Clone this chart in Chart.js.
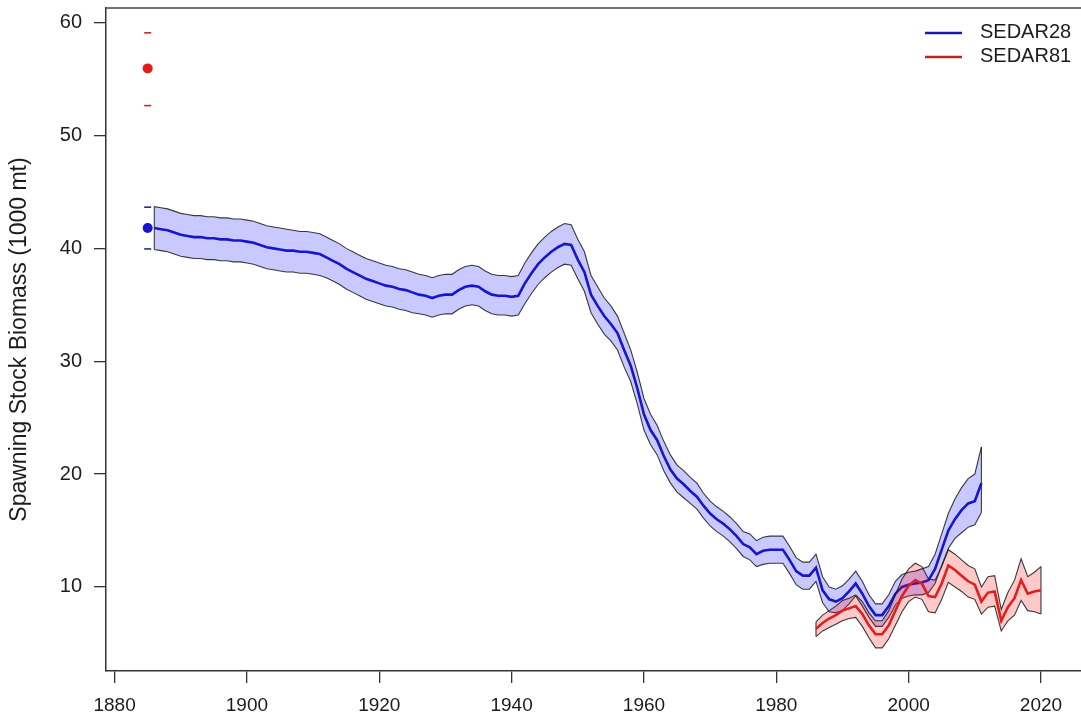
<!DOCTYPE html>
<html><head><meta charset="utf-8">
<style>html,body{margin:0;padding:0;background:#fff;}#wrap{width:1081px;height:725px;}</style>
<script src="https://cdn.jsdelivr.net/npm/chart.js@4/dist/chart.umd.min.js"></script>
</head><body><div id="wrap"><canvas id="c" width="1081" height="725"></canvas></div>
<script>
// ---------------- DATA ----------------
const seriesNames = ["SEDAR28", "SEDAR81"];
const xTicks = [1880, 1900, 1920, 1940, 1960, 1980, 2000, 2020];
const yTicks = [10, 20, 30, 40, 50, 60];
const yTitle = "Spawning Stock Biomass (1000 mt)";

// single estimate at the first year (point with interval ticks)
const pointYear = 1885;
const s28Point = 41.8, s28PointLo = 39.95, s28PointHi = 43.65;
const s81Point = 55.95, s81PointLo = 52.65, s81PointHi = 59.1;

// SEDAR28 : 1886-2011
const s28Start = 1886;
const s28 = [
 41.8,41.7,41.6,41.4,41.2,41.1,41.0,41.0,40.9,40.9,40.8,40.8,40.7,40.7,
 40.6,40.5,40.3,40.1,40.0,39.9,39.8,39.8,39.7,39.7,
 39.6,39.5,39.2,38.9,38.6,38.2,37.9,37.6,37.3,37.1,
 36.9,36.7,36.6,36.4,36.3,36.1,35.9,35.8,35.6,35.8,
 35.9,35.9,36.3,36.6,36.7,36.6,36.2,35.9,35.8,35.8,
 35.7,35.8,36.9,37.8,38.6,39.2,39.7,40.1,40.4,40.3,
 39.0,37.9,35.9,34.9,34.0,33.3,32.5,31.0,29.6,27.6,
 25.3,23.9,23.0,21.6,20.4,19.6,19.1,18.5,18.0,17.2,
 16.5,16.0,15.6,15.1,14.5,13.8,13.5,12.9,13.2,13.3,
 13.3,13.3,12.4,11.4,11.0,11.0,11.7,9.7,8.9,8.7,
 9.0,9.6,10.3,9.4,8.3,7.5,7.5,8.3,9.4,10.0,
 10.2,10.3,10.4,10.6,11.6,13.3,15.0,16.0,16.8,17.4,
 17.6,19.2
];
const s28Hi = [
 43.7,43.6,43.5,43.3,43.1,43.0,42.9,42.9,42.8,42.8,42.7,42.7,42.6,42.6,
 42.5,42.4,42.2,42.0,41.9,41.8,41.7,41.6,41.5,41.5,
 41.4,41.3,41.0,40.7,40.4,40.0,39.7,39.4,39.1,38.9,
 38.7,38.5,38.4,38.2,38.1,37.9,37.7,37.6,37.4,37.6,
 37.7,37.7,38.1,38.4,38.5,38.4,38.0,37.7,37.6,37.6,
 37.5,37.6,38.7,39.6,40.4,41.0,41.5,41.9,42.2,42.1,
 40.8,39.7,37.6,36.6,35.6,34.9,34.0,32.5,31.0,29.0,
 26.7,25.3,24.3,22.9,21.7,20.8,20.3,19.7,19.2,18.3,
 17.6,17.1,16.7,16.2,15.6,14.9,14.7,14.1,14.4,14.5,
 14.5,14.5,13.6,12.6,12.2,12.2,12.9,10.9,10.0,9.8,
 10.1,10.7,11.4,10.5,9.3,8.5,8.5,9.3,10.5,11.1,
 11.3,11.4,11.6,11.8,12.9,14.7,16.5,17.8,18.8,19.6,
 20.0,22.4
];
const s28Lo = [
 39.9,39.8,39.7,39.5,39.3,39.2,39.1,39.1,39.0,39.0,38.9,38.9,38.8,38.8,
 38.7,38.6,38.4,38.2,38.1,38.0,37.9,37.9,37.8,37.8,
 37.7,37.6,37.4,37.1,36.8,36.4,36.1,35.8,35.5,35.3,
 35.1,34.9,34.8,34.6,34.5,34.3,34.2,34.1,33.9,34.1,
 34.2,34.2,34.6,34.9,35.0,34.9,34.5,34.2,34.1,34.1,
 34.0,34.1,35.1,36.0,36.8,37.4,37.9,38.3,38.6,38.5,
 37.3,36.2,34.3,33.3,32.4,31.8,31.0,29.5,28.2,26.2,
 23.9,22.6,21.7,20.3,19.2,18.4,17.9,17.4,16.9,16.1,
 15.4,14.9,14.5,14.0,13.4,12.7,12.4,11.8,12.0,12.1,
 12.1,12.1,11.2,10.2,9.8,9.8,10.5,8.6,7.8,7.7,
 7.9,8.5,9.2,8.3,7.3,6.5,6.5,7.3,8.4,9.0,
 9.2,9.3,9.3,9.5,10.3,11.9,13.4,14.3,14.8,15.3,
 15.5,16.6
];

// SEDAR81 : 1986-2020
const s81Start = 1986;
const s81 = [
 6.3,6.8,7.2,7.5,7.9,8.1,8.3,7.6,6.6,5.8,
 5.8,6.6,7.9,9.2,10.1,10.6,10.3,9.2,9.1,10.3,
 11.9,11.5,11.0,10.5,10.2,8.7,9.5,9.6,7.0,8.2,
 9.0,10.6,9.4,9.6,9.7
];
const s81Hi = [
 6.9,7.5,7.9,8.3,8.8,9.0,9.3,8.7,7.7,7.0,
 7.0,7.9,9.3,10.7,11.6,12.1,11.8,10.7,10.6,11.8,
 13.3,12.9,12.4,11.9,11.6,10.0,10.9,11.0,8.0,9.5,
 10.6,12.5,10.9,11.3,11.8
];
const s81Lo = [
 5.6,6.1,6.4,6.7,7.0,7.2,7.3,6.5,5.5,4.6,
 4.6,5.4,6.6,7.8,8.7,9.1,8.9,7.8,7.7,8.9,
 10.4,10.0,9.6,9.1,8.9,7.6,8.2,8.3,6.1,7.0,
 7.5,8.8,7.9,7.8,7.6
];

// ---------------- BUILD ----------------
const BLUE = 'rgb(22,22,205)';
const RED = 'rgb(225,30,30)';
const BLUEFILL = 'rgba(0,0,255,0.21)';
const REDFILL = 'rgba(255,0,0,0.21)';
const EDGE = 'rgba(25,25,25,0.85)';

function pts(start, arr) { return arr.map((v, i) => ({x: start + i, y: v})); }
function endLine(start, lo, hi, idx) { return [{x: start + idx, y: lo[idx]}, {x: start + idx, y: hi[idx]}]; }

const lineBase = {showLine: true, pointRadius: 0, pointHoverRadius: 0, tension: 0, fill: false};

const datasets = [
  Object.assign({}, lineBase, {label: 's28hi', data: pts(s28Start, s28Hi), borderColor: EDGE, borderWidth: 1.1,
    fill: {target: 1}, backgroundColor: BLUEFILL, order: 20}),
  Object.assign({}, lineBase, {label: 's28lo', data: pts(s28Start, s28Lo), borderColor: EDGE, borderWidth: 1.1, order: 19}),
  Object.assign({}, lineBase, {label: 'e1', data: endLine(s28Start, s28Lo, s28Hi, 0), borderColor: EDGE, borderWidth: 1.1, order: 18}),
  Object.assign({}, lineBase, {label: 'e2', data: endLine(s28Start, s28Lo, s28Hi, s28.length - 1), borderColor: EDGE, borderWidth: 1.1, order: 18}),
  Object.assign({}, lineBase, {label: seriesNames[0], data: pts(s28Start, s28), borderColor: BLUE, borderWidth: 2.6, order: 17}),
  Object.assign({}, lineBase, {label: 's81hi', data: pts(s81Start, s81Hi), borderColor: EDGE, borderWidth: 1.1,
    fill: {target: 6}, backgroundColor: REDFILL, order: 16}),
  Object.assign({}, lineBase, {label: 's81lo', data: pts(s81Start, s81Lo), borderColor: EDGE, borderWidth: 1.1, order: 15}),
  Object.assign({}, lineBase, {label: 'e3', data: endLine(s81Start, s81Lo, s81Hi, 0), borderColor: EDGE, borderWidth: 1.1, order: 14}),
  Object.assign({}, lineBase, {label: 'e4', data: endLine(s81Start, s81Lo, s81Hi, s81.length - 1), borderColor: EDGE, borderWidth: 1.1, order: 14}),
  Object.assign({}, lineBase, {label: seriesNames[1], data: pts(s81Start, s81), borderColor: RED, borderWidth: 2.6, order: 13}),
  {label: 'p28', data: [{x: pointYear, y: s28Point}], showLine: false, pointRadius: 5, pointBorderWidth: 0,
    backgroundColor: BLUE, borderColor: BLUE, order: 2},
  {label: 'p81', data: [{x: pointYear, y: s81Point}], showLine: false, pointRadius: 5, pointBorderWidth: 0,
    backgroundColor: RED, borderColor: RED, order: 2},
  {label: 'ci28', data: [{x: pointYear, y: s28PointLo}, {x: pointYear, y: s28PointHi}], showLine: false,
    pointStyle: 'line', pointRadius: 3.5, borderWidth: 1.6, borderColor: 'rgb(40,40,150)', order: 3},
  {label: 'ci81', data: [{x: pointYear, y: s81PointLo}, {x: pointYear, y: s81PointHi}], showLine: false,
    pointStyle: 'line', pointRadius: 3.5, borderWidth: 1.6, borderColor: 'rgb(200,40,40)', order: 3}
];

const FONT = "'Liberation Sans', Arial, sans-serif";
const TXT = '#1c1c1c';

const framePlugin = {
  id: 'frame',
  afterDraw(chart) {
    const {ctx, chartArea: a} = chart;
    ctx.save();
    ctx.strokeStyle = '#444';
    ctx.lineWidth = 1.5;
    ctx.beginPath();
    ctx.moveTo(a.left, a.top);
    ctx.lineTo(a.right, a.top);
    ctx.stroke();
    const items = [{name: seriesNames[0], color: 'rgb(25,25,170)'}, {name: seriesNames[1], color: 'rgb(190,35,40)'}];
    ctx.font = '20px ' + FONT;
    ctx.textBaseline = 'middle';
    ctx.textAlign = 'left';
    items.forEach((it, i) => {
      const y = 33 + i * 24;
      ctx.strokeStyle = it.color;
      ctx.lineWidth = 2.5;
      ctx.beginPath();
      ctx.moveTo(925, y);
      ctx.lineTo(962, y);
      ctx.stroke();
      ctx.fillStyle = TXT;
      ctx.fillText(it.name, 980, y - 1);
    });
    ctx.restore();
  }
};

new Chart(document.getElementById('c'), {
  type: 'scatter',
  data: {datasets},
  plugins: [framePlugin],
  options: {
    responsive: false,
    animation: false,
    devicePixelRatio: 1,
    layout: {autoPadding: false, padding: {top: 8, left: 0, right: 0, bottom: 0}},
    plugins: {legend: {display: false}, tooltip: {enabled: false}, filler: {propagate: false}},
    scales: {
      x: {
        type: 'linear', min: 1878.7, max: 2026.05,
        afterBuildTicks: s => { s.ticks = xTicks.map(v => ({value: v})); },
        afterFit: s => { s.height = 54; s.paddingLeft = 0; s.paddingRight = 0; },
        grid: {drawOnChartArea: false, drawTicks: true, tickLength: 12, color: '#333', lineWidth: 1.3},
        border: {display: true, color: '#333', width: 1.5},
        ticks: {font: {family: FONT, size: 19}, color: TXT, padding: 11, maxRotation: 0, autoSkip: false,
          callback: v => String(v)}
      },
      y: {
        type: 'linear', min: 2.55, max: 61.3,
        afterBuildTicks: s => { s.ticks = yTicks.map(v => ({value: v})); },
        afterFit: s => { s.width = 106; s.paddingTop = 0; s.paddingBottom = 0; },
        grid: {drawOnChartArea: false, drawTicks: true, tickLength: 12, color: '#333', lineWidth: 1.3},
        border: {display: true, color: '#333', width: 1.5},
        ticks: {font: {family: FONT, size: 20}, color: TXT, padding: 12, autoSkip: false},
        title: {display: true, text: yTitle, font: {family: FONT, size: 23}, color: TXT, padding: {top: 6, bottom: 0}}
      }
    }
  }
});
</script></body></html>
